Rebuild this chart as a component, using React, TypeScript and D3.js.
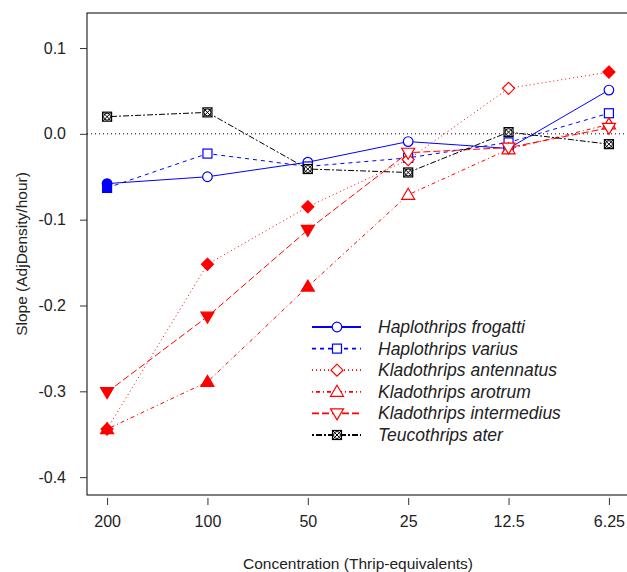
import React, { useEffect, useRef } from "react";
import * as d3 from "d3";

// concentration levels along the x axis (thrip-equivalents)
const concentrations = ["200", "100", "50", "25", "12.5", "6.25"];
const yTicks = [0.1, 0.0, -0.1, -0.2, -0.3, -0.4];

// slopes per species
const frogatti = [-0.058, -0.05, -0.033, -0.009, -0.017, 0.051];
const varius = [-0.063, -0.023, -0.038, -0.028, -0.01, 0.024];
const antennatus = [-0.344, -0.152, -0.085, -0.03, 0.053, 0.072];
const arotrum = [-0.344, -0.289, -0.178, -0.071, -0.018, 0.011];
const intermedius = [-0.301, -0.213, -0.112, -0.022, -0.016, 0.007];
const ater = [0.02, 0.025, -0.041, -0.045, 0.002, -0.012];

// which points are drawn with a solid symbol
const frogattiFilled = [1, 0, 0, 0, 0, 0];
const variusFilled = [1, 0, 0, 0, 0, 0];
const antennatusFilled = [1, 1, 1, 0, 0, 1];
const arotrumFilled = [1, 1, 1, 0, 0, 0];
const intermediusFilled = [1, 1, 1, 0, 0, 0];
const aterFilled = [0, 0, 0, 0, 0, 0];

const speciesNames = [
  "Haplothrips frogatti",
  "Haplothrips varius",
  "Kladothrips antennatus",
  "Kladothrips arotrum",
  "Kladothrips intermedius",
  "Teucothrips ater",
];

const FONT = "'Liberation Sans', Arial, Helvetica, sans-serif";

function drawSymbol(g: any, kind: string, cx: number, cy: number, color: string, filled: boolean) {
  const fill = filled ? color : "white";
  if (kind === "circle") {
    g.append("circle").attr("cx", cx).attr("cy", cy).attr("r", 4.8)
      .attr("fill", fill).attr("stroke", color).attr("stroke-width", 1.2);
  } else if (kind === "square") {
    g.append("rect").attr("x", cx - 4.5).attr("y", cy - 4.5).attr("width", 9).attr("height", 9)
      .attr("fill", fill).attr("stroke", color).attr("stroke-width", 1.2);
  } else if (kind === "diamond") {
    const r = 6;
    g.append("path").attr("d", `M${cx},${cy - r}L${cx + r},${cy}L${cx},${cy + r}L${cx - r},${cy}Z`)
      .attr("fill", fill).attr("stroke", color).attr("stroke-width", 1.2);
  } else if (kind === "up") {
    g.append("path").attr("d", `M${cx},${cy - 6.5}L${cx + 6.5},${cy + 4.5}L${cx - 6.5},${cy + 4.5}Z`)
      .attr("fill", fill).attr("stroke", color).attr("stroke-width", 1.2);
  } else if (kind === "down") {
    g.append("path").attr("d", `M${cx},${cy + 6.5}L${cx + 6.5},${cy - 4.5}L${cx - 6.5},${cy - 4.5}Z`)
      .attr("fill", fill).attr("stroke", color).attr("stroke-width", 1.2);
  } else {
    // square with a circle and a cross (black series)
    g.append("rect").attr("x", cx - 4.5).attr("y", cy - 4.5).attr("width", 9).attr("height", 9)
      .attr("fill", "white").attr("stroke", color).attr("stroke-width", 1.2);
    g.append("circle").attr("cx", cx).attr("cy", cy).attr("r", 3.5)
      .attr("fill", "none").attr("stroke", color).attr("stroke-width", 1);
    g.append("path").attr("d", `M${cx - 4.5},${cy - 4.5}L${cx + 4.5},${cy + 4.5}M${cx + 4.5},${cy - 4.5}L${cx - 4.5},${cy + 4.5}`)
      .attr("stroke", color).attr("stroke-width", 1);
  }
}

export default function App() {
  const ref = useRef<SVGSVGElement>(null);

  useEffect(() => {
    const svg = d3.select(ref.current);
    svg.selectAll("*").remove();

    const xScale = d3.scaleLinear().domain([-0.2, concentrations.length - 0.8]).range([87, 629]);
    const yScale = d3.scaleLinear().domain([-0.4208, 0.1408]).range([495, 13]);

    const series = [
      { values: frogatti, filled: frogattiFilled, color: "#0000ff", dash: null, sym: "circle" },
      { values: varius, filled: variusFilled, color: "#0000ff", dash: "4,4", sym: "square" },
      { values: antennatus, filled: antennatusFilled, color: "#ff0000", dash: "1,3", sym: "diamond" },
      { values: arotrum, filled: arotrumFilled, color: "#ff0000", dash: "1,3,4,3", sym: "up" },
      { values: intermedius, filled: intermediusFilled, color: "#ff0000", dash: "7,3", sym: "down" },
      { values: ater, filled: aterFilled, color: "#000000", dash: "2,2,6,2", sym: "cross" },
    ];

    // zero reference line
    svg.append("line")
      .attr("x1", 87).attr("x2", 629)
      .attr("y1", yScale(0)).attr("y2", yScale(0))
      .attr("stroke", "black").attr("stroke-dasharray", "1,3");

    const line = d3.line<number>()
      .x((d, i) => xScale(i))
      .y(d => yScale(d));

    series.forEach(s => {
      svg.append("path")
        .attr("d", line(s.values))
        .attr("fill", "none")
        .attr("stroke", s.color)
        .attr("stroke-width", 1)
        .attr("stroke-dasharray", s.dash);
    });

    series.forEach(s => {
      const g = svg.append("g");
      s.values.forEach((v, i) => drawSymbol(g, s.sym, xScale(i), yScale(v), s.color, s.filled[i] === 1));
    });

    // plot box (right edge falls just off the page)
    svg.append("rect")
      .attr("x", 87).attr("y", 13).attr("width", 629 - 87).attr("height", 495 - 13)
      .attr("fill", "none").attr("stroke", "black").attr("stroke-width", 1);

    const xAxis = d3.axisBottom(xScale)
      .tickValues(d3.range(concentrations.length))
      .tickFormat((d: any) => concentrations[d])
      .tickSize(7).tickPadding(11);
    const xg = svg.append("g").attr("transform", "translate(0, 498)").call(xAxis);
    xg.select(".domain").remove();
    xg.selectAll("text").attr("font-family", FONT).attr("font-size", 16).attr("fill", "#222");

    const yAxis = d3.axisLeft(yScale)
      .tickValues(yTicks)
      .tickFormat((d: any) => d.toFixed(1))
      .tickSize(7).tickPadding(14);
    const yg = svg.append("g").attr("transform", "translate(87, 0)").call(yAxis);
    yg.select(".domain").remove();
    yg.selectAll("text").attr("font-family", FONT).attr("font-size", 16).attr("fill", "#222");
    yg.selectAll("line").attr("stroke", "#333");
    xg.selectAll("line").attr("stroke", "#333");

    svg.append("text")
      .attr("x", 358).attr("y", 569)
      .attr("text-anchor", "middle")
      .attr("font-family", FONT).attr("font-size", 15.5).attr("fill", "#222")
      .text("Concentration (Thrip-equivalents)");

    svg.append("text")
      .attr("transform", "translate(27, 254) rotate(-90)")
      .attr("text-anchor", "middle")
      .attr("font-family", FONT).attr("font-size", 15.5).attr("fill", "#222")
      .text("Slope (AdjDensity/hour)");

    // legend
    const legend = svg.append("g");
    series.forEach((s, i) => {
      const y = 327 + i * 21.6;
      legend.append("line")
        .attr("x1", 312).attr("x2", 361).attr("y1", y).attr("y2", y)
        .attr("stroke", s.color).attr("stroke-width", 1.8)
        .attr("stroke-dasharray", s.dash);
      drawSymbol(legend, s.sym, 337, y, s.color, false);
      legend.append("text")
        .attr("x", 378).attr("y", y + 6)
        .attr("font-family", FONT).attr("font-size", 17.5).attr("font-style", "italic")
        .attr("fill", "#222")
        .text(speciesNames[i]);
    });
  }, []);

  return (
    <svg ref={ref} width={627} height={572}
      style={{ position: "absolute", left: 0, top: 0, background: "white" }} />
  );
}
